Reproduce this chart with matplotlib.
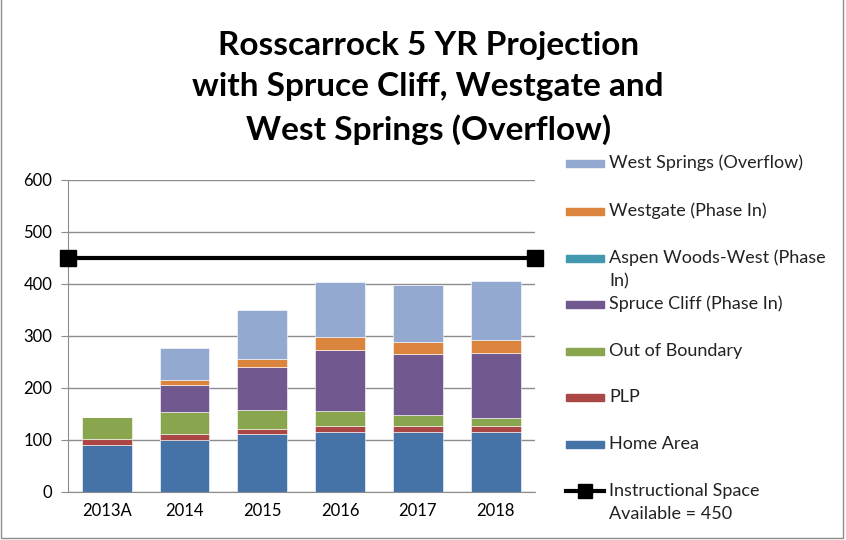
import matplotlib.pyplot as plt
from matplotlib.lines import Line2D
from matplotlib.patches import Rectangle
import numpy as np

plt.rcParams['font.family'] = ['Lato', 'DejaVu Sans']

years = ['2013A', '2014', '2015', '2016', '2017', '2018']
home_area = [90, 100, 112, 116, 116, 116]
plp = [12, 12, 9, 11, 11, 11]
out_of_boundary = [43, 41, 37, 29, 20, 15]
spruce_cliff = [0, 53, 82, 117, 119, 125]
aspen_woods = [0, 0, 0, 0, 0, 0]
westgate = [0, 9, 16, 24, 23, 25]
west_springs = [0, 62, 93, 106, 108, 114]
capacity = 450

series = [
    ('Home Area', home_area, '#4572A7'),
    ('PLP', plp, '#AA4643'),
    ('Out of Boundary', out_of_boundary, '#89A54E'),
    ('Spruce Cliff (Phase In)', spruce_cliff, '#71588F'),
    ('Aspen Woods-West (Phase\nIn)', aspen_woods, '#4198AF'),
    ('Westgate (Phase In)', westgate, '#DB843D'),
    ('West Springs (Overflow)', west_springs, '#93A9CF'),
]

fig = plt.figure(figsize=(8.46, 5.4), dpi=100)
ax = fig.add_axes([0.080, 0.089, 0.552, 0.578])

x = np.arange(len(years))
bottom = np.zeros(len(years))
for name, vals, col in series:
    vals = np.array(vals, dtype=float)
    ax.bar(x, vals, 0.64, bottom=bottom, color=col, edgecolor='white', linewidth=0.4, zorder=3)
    bottom += vals

ax.plot([-0.5, 5.5], [capacity, capacity], color='black', lw=3, marker='s',
        markersize=11, clip_on=False, zorder=5)

ax.set_xlim(-0.5, 5.5)
ax.set_ylim(0, 600)
ax.set_yticks(range(0, 601, 100))
ax.set_xticks(x)
ax.set_xticklabels(years)
ax.grid(axis='y', color='#8C8C8C', lw=1, zorder=0)
for s in ['top', 'right']:
    ax.spines[s].set_visible(False)
for s in ['left', 'bottom']:
    ax.spines[s].set_color('#8C8C8C')
ax.tick_params(axis='y', length=5, color='#8C8C8C', labelsize=12, pad=6)
ax.tick_params(axis='x', length=0, labelsize=12, pad=8)

fig.text(0.506, 1 - 88 / 540, 'Rosscarrock 5 YR Projection\nwith Spruce Cliff, Westgate and\nWest Springs (Overflow)',
         ha='center', va='center', fontsize=24, fontweight='bold', linespacing=1.5)


def legend_label(py, label):
    # each wrapped line on its own, 23 px apart
    for i, line in enumerate(label.split('\n')):
        fig.text(609 / 846, 1 - (py + 23 * i) / 540, line, fontsize=13,
                 va='center', color='#222222')


# legend, drawn top to bottom
leg_y = [163, 211, 258, 304, 351, 397, 444]
for (name, vals, col), py in zip(series[::-1], leg_y):
    yf = 1 - py / 540
    fig.patches.append(Rectangle((566 / 846, yf - 3.5 / 540), 38 / 846, 7 / 540,
                                 transform=fig.transFigure, color=col))
    legend_label(py, name)
yf = 1 - 491 / 540
fig.lines.append(Line2D([566 / 846, 585 / 846, 604 / 846], [yf, yf, yf], transform=fig.transFigure,
                        color='black', lw=3, marker='s', markersize=10, markevery=[1]))
legend_label(491, 'Instructional Space\nAvailable = 450')

fig.patches.append(Rectangle((0.001, 0.003), 0.995, 1.5, transform=fig.transFigure,
                             fill=False, edgecolor='#8C8C8C', lw=1))

fig.savefig('out.png', dpi=100)
